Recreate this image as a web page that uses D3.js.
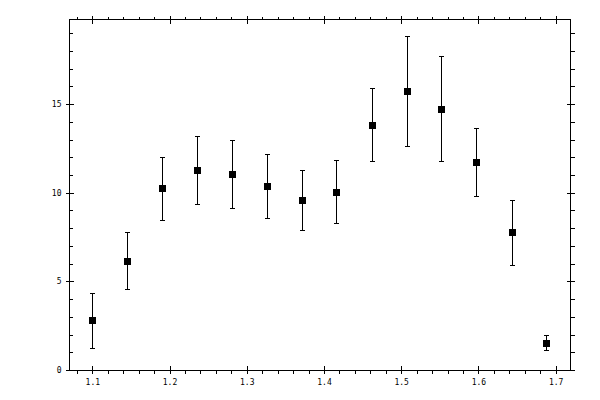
<!DOCTYPE html>
<html>
<head>
<meta charset="utf-8">
<script src="https://cdn.jsdelivr.net/npm/d3@7"></script>
<style>
  body { margin: 0; background: #fff; }
  svg { display: block; }
  text { font-family: "DejaVu Sans Mono", monospace; font-size: 8px; fill: #000; }
</style>
</head>
<body>
<div id="chart"></div>
<script>
// values
const xValues = [1.100, 1.145, 1.190, 1.236, 1.281, 1.326, 1.371, 1.416, 1.462, 1.507, 1.552, 1.597, 1.643, 1.688];
const yValues = [2.82, 6.16, 10.27, 11.28, 11.05, 10.38, 9.59, 10.04, 13.82, 15.74, 14.72, 11.73, 7.78, 1.52];
const yLow    = [1.24, 4.57, 8.46, 9.36, 9.14, 8.57, 7.90, 8.29, 11.79, 12.63, 11.79, 9.81, 5.92, 1.13];
const yHigh   = [4.34, 7.78, 12.01, 13.20, 12.97, 12.18, 11.28, 11.84, 15.91, 18.84, 17.71, 13.65, 9.59, 1.97];

const xMajor = [1.1, 1.2, 1.3, 1.4, 1.5, 1.6, 1.7];
const xMinor = [1.08, 1.12, 1.14, 1.16, 1.18, 1.22, 1.24, 1.26, 1.28, 1.32, 1.34, 1.36, 1.38,
                1.42, 1.44, 1.46, 1.48, 1.52, 1.54, 1.56, 1.58, 1.62, 1.64, 1.66, 1.68];
const yMajor = [0, 5, 10, 15];
const yMinor = [1, 2, 3, 4, 6, 7, 8, 9, 11, 12, 13, 14, 16, 17, 18, 19];

const W = 600, H = 400;
const LEFT = 69.5, RIGHT = 570.5, TOP = 19.5, BOTTOM = 370;

const data = xValues.map((x, i) => ({ x, y: yValues[i], lo: yLow[i], hi: yHigh[i] }));

const svg = d3.select("#chart").append("svg")
  .attr("width", W)
  .attr("height", H)
  .attr("shape-rendering", "crispEdges");

const x = d3.scaleLinear().domain([1.0705, 1.7192]).range([LEFT, RIGHT]);
const y = d3.scaleLinear().domain([0, 19.77]).range([BOTTOM, TOP]);

// frame
svg.append("rect")
  .attr("x", LEFT).attr("y", TOP)
  .attr("width", RIGHT - LEFT).attr("height", BOTTOM - TOP)
  .attr("fill", "none").attr("stroke", "#000");

// bottom axis: majors cross the line, minors point out
const xb = svg.append("g").attr("transform", `translate(0,${BOTTOM})`)
  .call(d3.axisBottom(x).tickValues(xMajor).tickSize(4).tickPadding(5).tickFormat(d3.format(".1f")));
xb.select(".domain").remove();
xb.selectAll(".tick line").attr("y1", -4);
xb.append("g").call(d3.axisBottom(x).tickValues(xMinor).tickSize(4).tickFormat(""))
  .select(".domain").remove();

// top axis
const xt = svg.append("g").attr("transform", `translate(0,${TOP})`)
  .call(d3.axisTop(x).tickValues(xMajor).tickSize(4).tickFormat(""));
xt.select(".domain").remove();
xt.selectAll(".tick line").attr("y1", 4);
xt.append("g").call(d3.axisTop(x).tickValues(xMinor).tickSize(3).tickFormat(""))
  .select(".domain").remove();

// left axis: majors cross, minors point inward
const yl = svg.append("g").attr("transform", `translate(${LEFT},0)`)
  .call(d3.axisLeft(y).tickValues(yMajor).tickSize(4).tickPadding(4));
yl.select(".domain").remove();
yl.selectAll(".tick line").attr("x1", 4);
yl.append("g").call(d3.axisRight(y).tickValues(yMinor).tickSize(3).tickFormat(""))
  .select(".domain").remove();

// right axis: majors cross, minors point outward
const yr = svg.append("g").attr("transform", `translate(${RIGHT},0)`)
  .call(d3.axisRight(y).tickValues(yMajor).tickSize(4).tickFormat(""));
yr.select(".domain").remove();
yr.selectAll(".tick line").attr("x1", -4);
yr.append("g").call(d3.axisRight(y).tickValues(yMinor).tickSize(4).tickFormat(""))
  .select(".domain").remove();

svg.selectAll(".tick text").style("font-family", "DejaVu Sans Mono").style("font-size", "8px");

// error bars
const bars = svg.append("g").attr("stroke", "#000").attr("fill", "none");
bars.selectAll(".err").data(data).join("line")
  .attr("class", "err")
  .attr("x1", d => Math.round(x(d.x)) + 0.5).attr("x2", d => Math.round(x(d.x)) + 0.5)
  .attr("y1", d => y(d.lo)).attr("y2", d => y(d.hi));
bars.selectAll(".capHi").data(data).join("line")
  .attr("class", "capHi")
  .attr("x1", d => Math.round(x(d.x)) - 2).attr("x2", d => Math.round(x(d.x)) + 3)
  .attr("y1", d => Math.round(y(d.hi)) + 0.5).attr("y2", d => Math.round(y(d.hi)) + 0.5);
bars.selectAll(".capLo").data(data).join("line")
  .attr("class", "capLo")
  .attr("x1", d => Math.round(x(d.x)) - 2).attr("x2", d => Math.round(x(d.x)) + 3)
  .attr("y1", d => Math.round(y(d.lo)) + 0.5).attr("y2", d => Math.round(y(d.lo)) + 0.5);

// square markers
svg.append("g").selectAll("rect").data(data).join("rect")
  .attr("x", d => Math.round(x(d.x)) - 3)
  .attr("y", d => Math.round(y(d.y)) - 3)
  .attr("width", 7).attr("height", 7)
  .attr("fill", "#000");
</script>
</body>
</html>
